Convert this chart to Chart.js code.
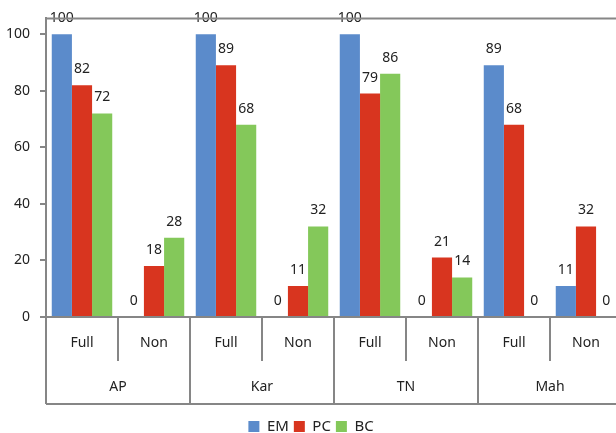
<!DOCTYPE html>
<html>
<head>
<meta charset="utf-8">
<script src="https://cdn.jsdelivr.net/npm/chart.js@4"></script>
<style>
  html, body { margin: 0; padding: 0; background: #fff; overflow: hidden; }
  #wrap { width: 622px; height: 433px; }
</style>
</head>
<body>
<div id="wrap"><canvas id="chart"></canvas></div>
<script>
const categories = ['Full', 'Non', 'Full', 'Non', 'Full', 'Non', 'Full', 'Non'];
const groups = ['AP', 'Kar', 'TN', 'Mah'];

const emData = [100, 0, 100, 0, 100, 0, 89, 11];
const pcData = [82, 18, 89, 11, 79, 21, 68, 32];
const bcData = [72, 28, 68, 32, 86, 14, 0, 0];

const yTicks = [0, 20, 40, 60, 80, 100];

const axisColor = '#868686';
const textColor = '#222222';
const fontFamily = "'Noto Sans', 'Open Sans', sans-serif";

// value labels above each bar
const valueLabels = {
  id: 'valueLabels',
  afterDatasetsDraw(chart) {
    const ctx = chart.ctx;
    ctx.save();
    ctx.font = '14px ' + fontFamily;
    ctx.fillStyle = textColor;
    ctx.textAlign = 'center';
    ctx.textBaseline = 'middle';
    chart.data.datasets.forEach((ds, di) => {
      chart.getDatasetMeta(di).data.forEach((bar, i) => {
        ctx.fillText(String(ds.data[i]), bar.x, bar.y - 16);
      });
    });
    ctx.restore();
  }
};

// two-level category axis + frame lines
const groupAxis = {
  id: 'groupAxis',
  afterDraw(chart) {
    const ctx = chart.ctx;
    const a = chart.chartArea;
    const x = chart.scales.x;
    const y0 = a.bottom;
    const midY = y0 + 44;
    const endY = y0 + 87;

    ctx.save();
    ctx.strokeStyle = axisColor;
    ctx.lineWidth = 2;
    ctx.beginPath();
    // top border
    ctx.moveTo(a.left, a.top);
    ctx.lineTo(a.right, a.top);
    // zero line
    ctx.moveTo(a.left, y0);
    ctx.lineTo(a.right, y0);
    // bottom line
    ctx.moveTo(a.left, endY);
    ctx.lineTo(a.right, endY);
    // left frame
    ctx.moveTo(a.left, a.top);
    ctx.lineTo(a.left, endY);
    for (let i = 1; i <= categories.length; i++) {
      const px = Math.round(x.getPixelForValue(i - 0.5));
      ctx.moveTo(px, y0);
      ctx.lineTo(px, i % 2 === 0 ? endY : midY);
    }
    ctx.stroke();

    ctx.font = '14px ' + fontFamily;
    ctx.fillStyle = textColor;
    ctx.textAlign = 'center';
    ctx.textBaseline = 'middle';
    categories.forEach((c, i) => {
      ctx.fillText(c, x.getPixelForValue(i), y0 + 26);
    });
    groups.forEach((g, gi) => {
      ctx.fillText(g, x.getPixelForValue(gi * 2 + 0.5), y0 + 70);
    });
    ctx.restore();
  }
};

new Chart(document.getElementById('chart'), {
  type: 'bar',
  data: {
    labels: categories,
    datasets: [
      { label: 'EM', data: emData, backgroundColor: '#5B8BCB' },
      { label: 'PC', data: pcData, backgroundColor: '#D8351F' },
      { label: 'BC', data: bcData, backgroundColor: '#84C85A' }
    ]
  },
  options: {
    responsive: true,
    maintainAspectRatio: false,
    animation: false,
    datasets: {
      bar: { categoryPercentage: 0.84, barPercentage: 1.0 }
    },
    layout: { padding: { top: 16, left: 0, right: 0, bottom: -11 } },
    plugins: {
      legend: {
        position: 'bottom',
        labels: {
          color: textColor,
          font: { family: fontFamily, size: 15 },
          boxWidth: 11,
          boxHeight: 11,
          padding: 5
        }
      },
      tooltip: { enabled: false }
    },
    scales: {
      x: {
        ticks: { display: false },
        grid: { display: false },
        border: { display: false },
        afterFit(scale) { scale.height = 97; }
      },
      y: {
        min: 0,
        max: 105.6,
        afterBuildTicks(scale) {
          scale.ticks = yTicks.map((v) => ({ value: v }));
        },
        afterFit(scale) { scale.width = 46; },
        ticks: {
          color: textColor,
          font: { family: fontFamily, size: 14 },
          padding: 10
        },
        grid: {
          drawOnChartArea: false,
          drawTicks: true,
          tickLength: 6,
          color: axisColor,
          lineWidth: 2
        },
        border: { display: true, color: axisColor, width: 2 }
      }
    }
  },
  plugins: [valueLabels, groupAxis]
});
</script>
</body>
</html>
